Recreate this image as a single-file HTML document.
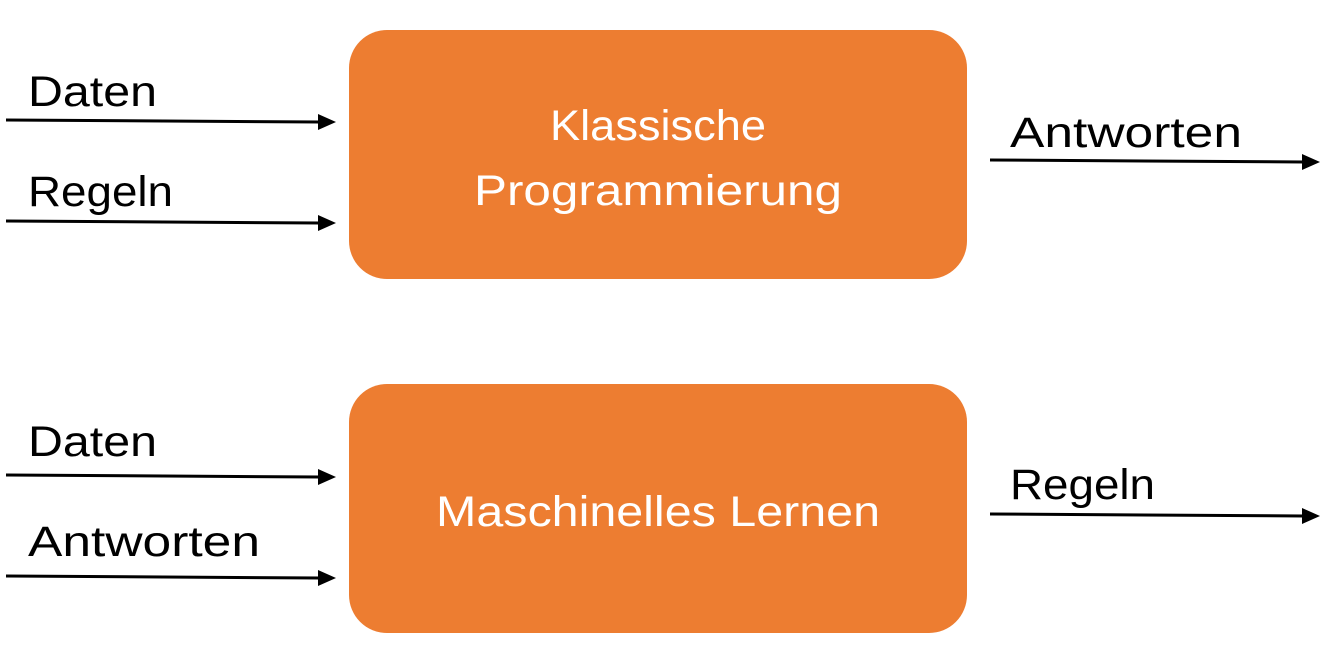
<!DOCTYPE html>
<html><head><meta charset="utf-8"><style>
html,body{margin:0;padding:0;background:#fff;width:1340px;height:665px;overflow:hidden}
svg text{font-family:"Liberation Sans",sans-serif}
</style></head><body>
<svg width="1340" height="665" viewBox="0 0 1340 665" xmlns="http://www.w3.org/2000/svg">
<rect x="349" y="30" width="618" height="249" rx="38" fill="#ED7D31"/>
<rect x="349" y="384" width="618" height="249" rx="38" fill="#ED7D31"/>
<g fill="#fff" font-size="43">
<text x="550" y="140" textLength="216" lengthAdjust="spacingAndGlyphs">Klassische</text>
<text x="474" y="205" textLength="368" lengthAdjust="spacingAndGlyphs">Programmierung</text>
<text x="436" y="526" textLength="444" lengthAdjust="spacingAndGlyphs">Maschinelles Lernen</text>
</g>
<g fill="#000" font-size="43">
<text x="28" y="106" textLength="129" lengthAdjust="spacingAndGlyphs">Daten</text>
<text x="28" y="206" textLength="145" lengthAdjust="spacingAndGlyphs">Regeln</text>
<text x="1010" y="147" textLength="232" lengthAdjust="spacingAndGlyphs">Antworten</text>
<text x="28" y="456" textLength="129" lengthAdjust="spacingAndGlyphs">Daten</text>
<text x="28" y="556" textLength="232" lengthAdjust="spacingAndGlyphs">Antworten</text>
<text x="1010" y="499" textLength="145" lengthAdjust="spacingAndGlyphs">Regeln</text>
</g>
<g stroke="#000" stroke-width="3">
<line x1="6" y1="120" x2="320" y2="122"/>
<line x1="6" y1="221" x2="320" y2="223"/>
<line x1="990" y1="160" x2="1304" y2="162"/>
<line x1="6" y1="475" x2="320" y2="477"/>
<line x1="6" y1="576" x2="320" y2="578"/>
<line x1="990" y1="514" x2="1304" y2="516"/>
</g>
<g fill="#000">
<path d="M318,114 L336,122 L318,130z"/>
<path d="M318,215 L336,223 L318,231z"/>
<path d="M1302,154 L1320,162 L1302,170z"/>
<path d="M318,469 L336,477 L318,485z"/>
<path d="M318,570 L336,578 L318,586z"/>
<path d="M1302,508 L1320,516 L1302,524z"/>
</g>
</svg>
</body></html>
